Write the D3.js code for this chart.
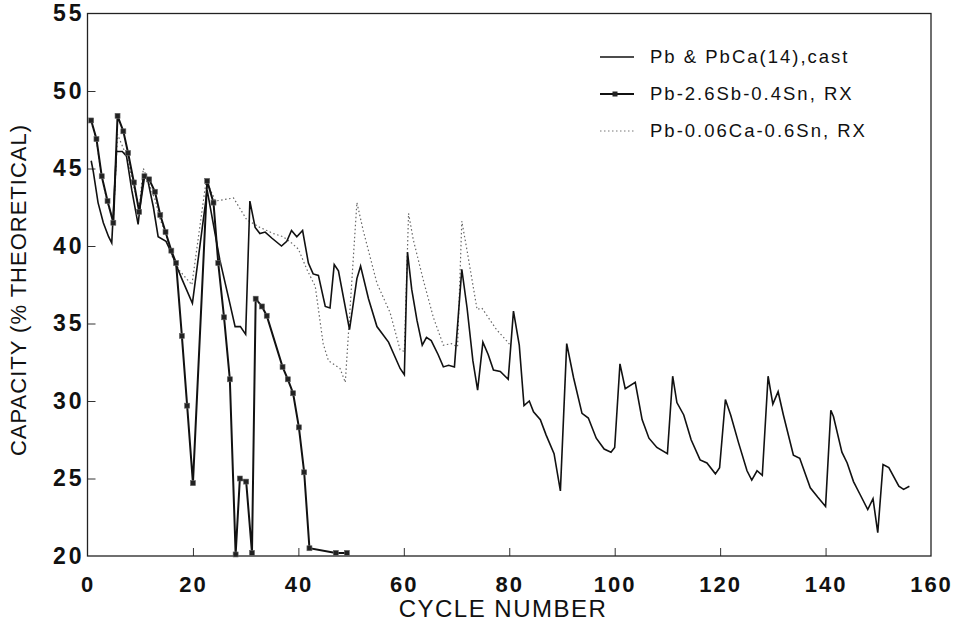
<!DOCTYPE html>
<html>
<head>
<meta charset="utf-8">
<script src="https://cdn.jsdelivr.net/npm/d3@7"></script>
<style>
  body { margin: 0; background: #fff; }
  svg text { font-family: "Liberation Sans", Arial, sans-serif; fill: #111; }
</style>
</head>
<body>
<div id="graph"></div>
<script>
// Pb & PbCa(14), cast
var cycles1 = [0.7, 1.1, 2, 3, 4, 4.6, 5.5, 6.6, 7.4, 8.4, 9.6, 10.6, 11.4, 12.5, 13.4, 14.9, 16, 16.9, 18, 19.9,
  22.7, 25.1, 27, 28, 29, 30, 30.8, 31.8, 32.7, 33.7, 35, 36.8, 37.8, 38.7, 39.7, 40.8, 41.9, 42.8, 43.8, 45.1,
  46, 46.8, 47.6, 49.7, 51.1, 51.8, 53.3, 54.9, 57.1, 59.3, 60.1, 60.7, 61.5, 62.5, 63.5, 64.3, 65.2, 66.5, 67.5, 68.5,
  69.6, 71, 72, 73.1, 74, 75, 76, 77, 78.3, 79.8, 80.8, 81.9, 82.8, 83.8, 84.6, 85.9, 87, 88.5, 89.7, 90.9,
  92.2, 93.8, 95, 96.5, 98, 99.3, 100, 101, 102, 103.9, 105.2, 106.5, 108, 110, 111, 111.8, 113.1, 114.5, 116.2, 117.5,
  119.1, 119.9, 121, 122, 123.5, 125.1, 126, 127, 128, 129.1, 130, 131, 132, 133.9, 135.1, 137.1, 138.5, 140, 141, 141.5,
  143.1, 144.1, 145.3, 146.5, 148, 149, 149.9, 150.9, 152, 153.9, 154.8, 155.9];
var cap1 = [45.5, 44.8, 42.8, 41.5, 40.6, 40.2, 46.1, 46.1, 45.8, 43.6, 41.4, 44.5, 44.3, 42.5, 40.6, 40.3, 39.5, 38.7, 37.8, 36.3,
  43.6, 39.1, 36.3, 34.8, 34.8, 34.3, 42.9, 41.2, 40.8, 40.9, 40.5, 40.0, 40.3, 41.0, 40.6, 41.0, 38.9, 38.2, 38.1, 36.1,
  36.0, 38.8, 38.4, 34.6, 37.9, 38.7, 36.6, 34.8, 33.8, 32.1, 31.7, 39.6, 37.2, 35.2, 33.6, 34.1, 33.9, 33.0, 32.2, 32.3,
  32.2, 38.5, 36.0, 32.6, 30.7, 33.8, 33.0, 32.0, 31.9, 31.4, 35.8, 33.6, 29.7, 30.0, 29.3, 28.8, 27.8, 26.6, 24.2, 33.7,
  31.5, 29.2, 28.9, 27.6, 26.9, 26.7, 27.0, 32.4, 30.8, 31.2, 28.8, 27.6, 27.0, 26.6, 31.6, 29.9, 29.1, 27.5, 26.2, 26.0,
  25.3, 25.7, 30.1, 29.1, 27.3, 25.5, 24.9, 25.5, 25.2, 31.6, 29.8, 30.6, 29.1, 26.5, 26.3, 24.4, 23.8, 23.2, 29.4, 29.0,
  26.7, 26.0, 24.8, 24.0, 23.0, 23.7, 21.5, 25.9, 25.7, 24.5, 24.3, 24.5];

// Pb-2.6Sb-0.4Sn, RX
var cycles2 = [0.7, 1.7, 2.7, 3.8, 4.9, 5.7, 6.8, 7.7, 8.8, 9.8, 10.8, 11.7, 12.8, 13.8, 14.8, 15.9, 16.8, 17.9, 18.9, 20,
  22.7, 23.9, 24.8, 25.9, 27, 28.1, 28.9, 30.1, 31.2, 31.9, 33.1, 34, 37, 38, 39, 40.1, 41.1, 42.1, 47.1, 49.2];
var cap2 = [48.1, 46.9, 44.5, 42.9, 41.5, 48.4, 47.4, 46.0, 44.1, 42.2, 44.5, 44.3, 43.5, 42.0, 40.9, 39.7, 38.9, 34.2, 29.7, 24.7,
  44.2, 42.8, 38.9, 35.4, 31.4, 20.1, 25.0, 24.8, 20.2, 36.6, 36.1, 35.5, 32.2, 31.4, 30.5, 28.3, 25.4, 20.5, 20.2, 20.2];

// Pb-0.06Ca-0.6Sn, RX
var cycles3 = [0.7, 1.7, 2.7, 3.8, 4.9, 5.7, 6.8, 7.7, 8.8, 9.8, 10.6, 11.7, 12.8, 13.8, 14.8, 16.2, 17.5, 18.5, 19.8, 22.5,
  24.3, 26, 27.7, 30.2, 32.7, 35.3, 37.1, 38.7, 40, 41.6, 43.2, 44.7, 45.7, 47.9, 48.9, 51.1, 52.3, 54.9, 57.4, 59.3,
  60.1, 60.9, 61.8, 63.7, 65.6, 67.5, 69, 70.2, 71, 72, 73.9, 74.8, 77.6, 79.2, 80.2];
var cap3 = [48.0, 46.8, 44.4, 42.8, 41.6, 47.2, 46.3, 45.5, 43.8, 42.5, 45.0, 44.0, 43.0, 41.7, 40.8, 39.2, 38.4, 38.0, 37.5, 44.2,
  42.9, 43.0, 43.1, 41.7, 41.2, 40.8, 40.6, 40.2, 39.8, 38.5, 37.4, 33.7, 32.6, 32.1, 31.2, 42.8, 41.0, 37.6, 35.7, 33.3,
  33.2, 42.1, 40.4, 37.8, 35.4, 33.6, 33.7, 33.5, 41.6, 39.7, 35.9, 36.0, 34.6, 34.0, 33.6];

var xTicks = [0, 20, 40, 60, 80, 100, 120, 140, 160];
var yTicks = [20, 25, 30, 35, 40, 45, 50, 55];
var seriesNames = ['Pb & PbCa(14),cast', 'Pb-2.6Sb-0.4Sn, RX', 'Pb-0.06Ca-0.6Sn, RX'];

function zip(xs, ys) {
  return xs.map(function(c, i) { return {c: c, v: ys[i]}; });
}

function drawGraph() {
  var width = 964, height = 624;
  var left = 87.5, right = 931, top = 13.5, bottom = 556;

  var svg = d3.select('#graph').append('svg')
      .attr('width', width)
      .attr('height', height);

  var x = d3.scaleLinear().domain([0, 160]).range([left, right]);
  var y = d3.scaleLinear().domain([20, 55]).range([bottom, top]);

  // axes, ticks pointing into the plot
  var yAxis = svg.append('g')
      .attr('transform', 'translate(' + left + ',0)')
      .call(d3.axisLeft(y).tickValues(yTicks).tickSize(-8).tickPadding(3));
  var xAxis = svg.append('g')
      .attr('transform', 'translate(0,' + bottom + ')')
      .call(d3.axisBottom(x).tickValues(xTicks).tickSize(-8).tickPadding(20));

  [xAxis, yAxis].forEach(function(a) {
    a.select('.domain').remove();
    a.selectAll('line').attr('stroke', '#333').attr('stroke-width', 1);
    a.selectAll('text')
        .style('font-weight', 'bold')
        .attr('fill', '#111');
  });
  yAxis.selectAll('text').style('font-size', '23px').style('letter-spacing', '3px');
  xAxis.selectAll('text').style('font-size', '22px').style('letter-spacing', '2px');
  yAxis.selectAll('.tick').filter(function(d) { return d === 55 || d === 20; }).select('line').remove();
  xAxis.selectAll('.tick').filter(function(d) { return d === 0 || d === 160; }).select('line').remove();

  svg.append('rect')
      .attr('x', left).attr('y', top)
      .attr('width', right - left).attr('height', bottom - top)
      .attr('fill', 'none').attr('stroke', '#222').attr('stroke-width', 1.3);

  var line = d3.line()
      .x(function(d) { return x(d.c); })
      .y(function(d) { return y(d.v); });

  var d1 = zip(cycles1, cap1), d2 = zip(cycles2, cap2), d3s = zip(cycles3, cap3);

  svg.append('path').datum(d3s).attr('d', line)
      .attr('fill', 'none').attr('stroke', '#666').attr('stroke-width', 1.2)
      .attr('stroke-dasharray', '1.5,2.5');
  svg.append('path').datum(d1).attr('d', line)
      .attr('fill', 'none').attr('stroke', '#111').attr('stroke-width', 1.6);
  svg.append('path').datum(d2).attr('d', line)
      .attr('fill', 'none').attr('stroke', '#111').attr('stroke-width', 2);
  svg.selectAll('.mark').data(d2).enter().append('rect')
      .attr('class', 'mark')
      .attr('x', function(d) { return x(d.c) - 2.5; })
      .attr('y', function(d) { return y(d.v) - 2.5; })
      .attr('width', 5).attr('height', 5)
      .attr('fill', '#222').attr('stroke', '#666').attr('stroke-width', 0.6);

  // axis titles
  svg.append('text')
      .attr('x', 503).attr('y', 617)
      .attr('text-anchor', 'middle')
      .style('font-size', '24px')
      .style('letter-spacing', '1.5px')
      .text('CYCLE NUMBER');
  svg.append('text')
      .attr('transform', 'translate(26,' + 290 + ') rotate(-90)')
      .attr('text-anchor', 'middle')
      .style('font-size', '22px')
      .style('letter-spacing', '1px')
      .text('CAPACITY (% THEORETICAL)');

  // legend
  var legend = svg.append('g');
  seriesNames.forEach(function(name, i) {
    var ly = 57 + i * 37;
    var ln = legend.append('line')
        .attr('x1', 600).attr('x2', 634).attr('y1', ly).attr('y2', ly);
    if (i === 0) ln.attr('stroke', '#111').attr('stroke-width', 1.4);
    if (i === 1) {
      ln.attr('stroke', '#111').attr('stroke-width', 2);
      legend.append('rect').attr('x', 612.5).attr('y', ly - 2.5).attr('width', 5).attr('height', 5).attr('fill', '#222');
    }
    if (i === 2) ln.attr('stroke', '#777').attr('stroke-width', 1).attr('stroke-dasharray', '1.5,2.5');
    legend.append('text')
        .attr('x', 650).attr('y', ly + 6)
        .style('font-size', '18.5px')
        .style('letter-spacing', '2px')
        .text(name);
  });
}

drawGraph();
</script>
</body>
</html>
